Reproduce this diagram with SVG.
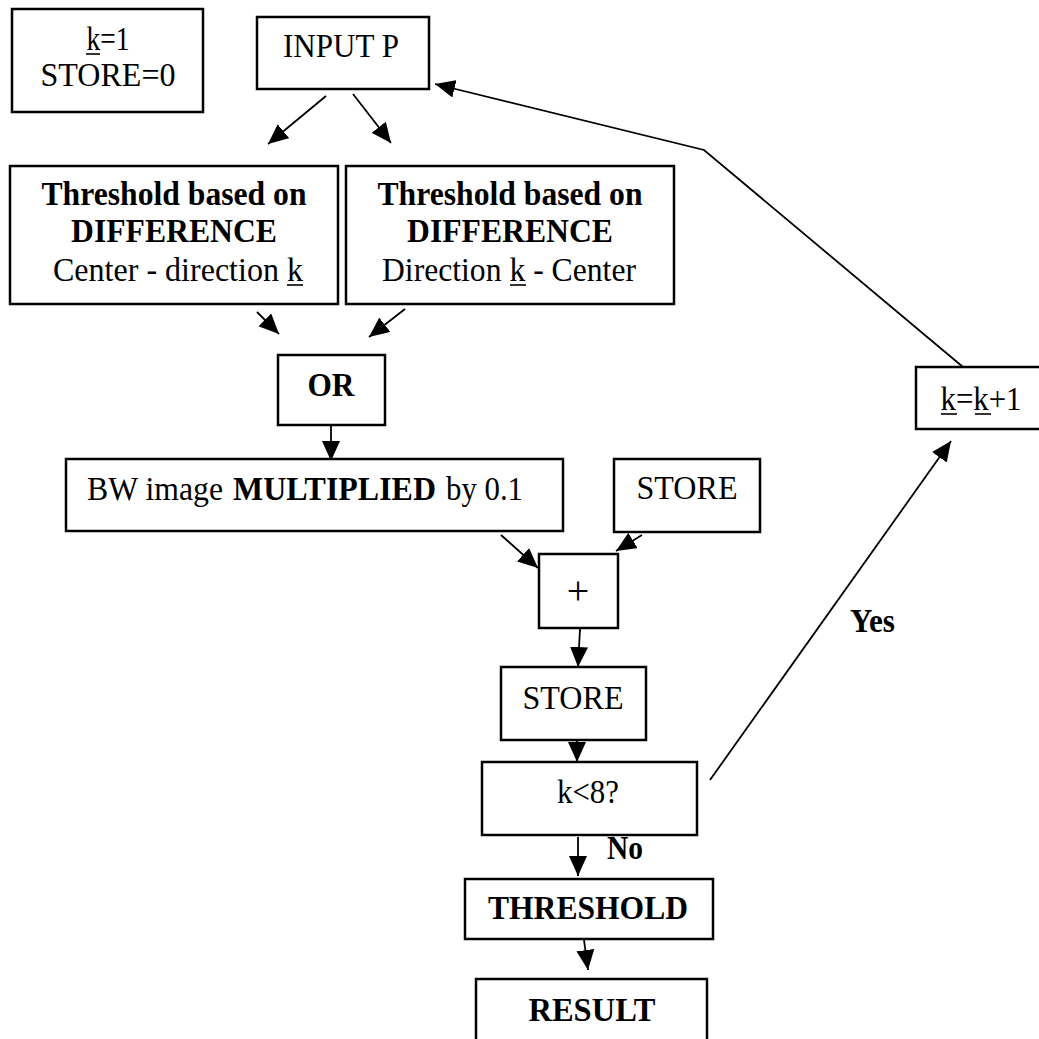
<svg xmlns="http://www.w3.org/2000/svg" width="1039" height="1039" viewBox="0 0 1039 1039">
<style>
.box{fill:#fff;stroke:#000;stroke-width:2.5}
.t{font-family:"Liberation Serif","Times New Roman",serif;font-size:34px;fill:#000}
.b{font-weight:bold}
.m{text-anchor:middle}
.ul{stroke:#000;stroke-width:1.6}
.c{fill:none;stroke:#000;stroke-width:1.8}
</style>
<defs>
<marker id="ah" viewBox="0 0 20 18" refX="20" refY="9" markerWidth="20" markerHeight="18" markerUnits="userSpaceOnUse" orient="auto">
<path d="M0,0 L20,9 L0,18 Z" fill="#000"/>
</marker>
</defs>
<rect width="1039" height="1039" fill="#fff"/>
<g id="connectors">
<line class="c" x1="326" y1="96" x2="268" y2="144" marker-end="url(#ah)"/>
<line class="c" x1="353" y1="94" x2="391" y2="143" marker-end="url(#ah)"/>
<line class="c" x1="257" y1="312" x2="279" y2="334" marker-end="url(#ah)"/>
<line class="c" x1="405" y1="309" x2="369" y2="337" marker-end="url(#ah)"/>
<line class="c" x1="331" y1="426" x2="331" y2="461" marker-end="url(#ah)"/>
<line class="c" x1="501" y1="535" x2="538" y2="568" marker-end="url(#ah)"/>
<line class="c" x1="642" y1="535" x2="616" y2="551" marker-end="url(#ah)"/>
<line class="c" x1="580" y1="629" x2="578" y2="667" marker-end="url(#ah)"/>
<line class="c" x1="577" y1="741" x2="577" y2="762" marker-end="url(#ah)"/>
<line class="c" x1="578" y1="837" x2="578" y2="876" marker-end="url(#ah)"/>
<line class="c" x1="584" y1="940" x2="588" y2="970" marker-end="url(#ah)"/>
<line class="c" x1="710" y1="780" x2="951" y2="441" marker-end="url(#ah)"/>
<polyline class="c" points="963,367 704,150 435,84" marker-end="url(#ah)"/>
<text class="t b" x="607" y="859" textLength="36" lengthAdjust="spacingAndGlyphs">No</text>
<text class="t b" x="850" y="632" textLength="45" lengthAdjust="spacingAndGlyphs">Yes</text>
</g>
<g id="init">
<rect class="box" x="12" y="9" width="191" height="103"/>
<text class="t m" x="108" y="50" textLength="43" lengthAdjust="spacingAndGlyphs">k=1</text>
<line class="ul" x1="86" y1="54" x2="100" y2="54"/>
<text class="t m" x="108" y="86" textLength="135" lengthAdjust="spacingAndGlyphs">STORE=0</text>
</g>
<g id="input">
<rect class="box" x="257" y="17" width="172" height="72"/>
<text class="t m" x="341" y="57" textLength="116" lengthAdjust="spacingAndGlyphs">INPUT P</text>
</g>
<g id="thr1">
<rect class="box" x="10" y="166" width="328" height="138"/>
<text class="t m b" x="174" y="205" textLength="265" lengthAdjust="spacingAndGlyphs">Threshold based on</text>
<text class="t m b" x="174" y="242" textLength="206" lengthAdjust="spacingAndGlyphs">DIFFERENCE</text>
<text class="t m" x="178" y="281" textLength="250" lengthAdjust="spacingAndGlyphs">Center - direction k</text>
<line class="ul" x1="287" y1="285" x2="303" y2="285"/>
</g>
<g id="thr2">
<rect class="box" x="346" y="166" width="328" height="138"/>
<text class="t m b" x="510" y="205" textLength="265" lengthAdjust="spacingAndGlyphs">Threshold based on</text>
<text class="t m b" x="510" y="242" textLength="206" lengthAdjust="spacingAndGlyphs">DIFFERENCE</text>
<text class="t m" x="509" y="281" textLength="254" lengthAdjust="spacingAndGlyphs">Direction k - Center</text>
<line class="ul" x1="510" y1="285" x2="526" y2="285"/>
</g>
<g id="or">
<rect class="box" x="278" y="355" width="107" height="70"/>
<text class="t m b" x="331" y="396" textLength="47" lengthAdjust="spacingAndGlyphs">OR</text>
</g>
<g id="bw">
<rect class="box" x="66" y="459" width="497" height="72"/>
<text class="t" x="87" y="500" textLength="136" lengthAdjust="spacingAndGlyphs">BW image</text>
<text class="t b" x="233" y="500" textLength="203" lengthAdjust="spacingAndGlyphs">MULTIPLIED</text>
<text class="t" x="446" y="500" textLength="77" lengthAdjust="spacingAndGlyphs">by 0.1</text>
</g>
<g id="store1">
<rect class="box" x="614" y="459" width="146" height="73"/>
<text class="t m" x="687" y="499" textLength="101" lengthAdjust="spacingAndGlyphs">STORE</text>
</g>
<g id="plus">
<rect class="box" x="539" y="554" width="79" height="74"/>
<text class="t m" x="578" y="604" style="font-size:40px">+</text>
</g>
<g id="store2">
<rect class="box" x="501" y="667" width="145" height="73"/>
<text class="t m" x="573" y="709" textLength="101" lengthAdjust="spacingAndGlyphs">STORE</text>
</g>
<g id="cond">
<rect class="box" x="482" y="762" width="215" height="73"/>
<text class="t m" x="588" y="803" textLength="62" lengthAdjust="spacingAndGlyphs">k&lt;8?</text>
</g>
<g id="threshold">
<rect class="box" x="465" y="879" width="248" height="60"/>
<text class="t m b" x="588" y="919" textLength="200" lengthAdjust="spacingAndGlyphs">THRESHOLD</text>
</g>
<g id="result">
<rect class="box" x="476" y="979" width="231" height="80"/>
<text class="t m b" x="592" y="1021" textLength="127" lengthAdjust="spacingAndGlyphs">RESULT</text>
</g>
<g id="inc">
<rect class="box" x="916" y="367" width="130" height="62"/>
<text class="t m" x="981" y="410" textLength="81" lengthAdjust="spacingAndGlyphs">k=k+1</text>
<line class="ul" x1="941" y1="414" x2="957" y2="414"/>
<line class="ul" x1="975" y1="414" x2="991" y2="414"/>
</g>
</svg>
